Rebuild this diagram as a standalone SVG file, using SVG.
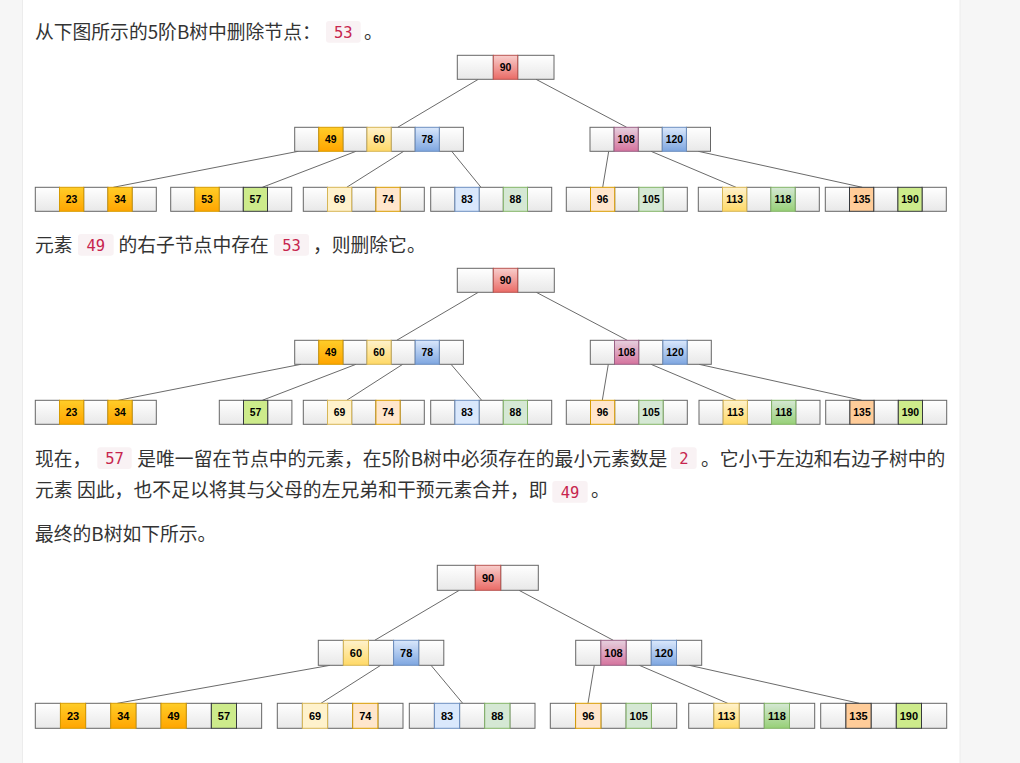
<svg xmlns="http://www.w3.org/2000/svg" width="1020" height="763" viewBox="0 0 1020 763">
<defs>
<linearGradient id="gW" x1="0" y1="0" x2="0" y2="1"><stop offset="0" stop-color="#ffffff"/><stop offset="1" stop-color="#e8e8e8"/></linearGradient>
<linearGradient id="gOr" x1="0" y1="0" x2="0" y2="1"><stop offset="0" stop-color="#ffcd28"/><stop offset="1" stop-color="#ffa500"/></linearGradient>
<linearGradient id="gY" x1="0" y1="0" x2="0" y2="1"><stop offset="0" stop-color="#fff2cc"/><stop offset="1" stop-color="#ffd966"/></linearGradient>
<linearGradient id="gB" x1="0" y1="0" x2="0" y2="1"><stop offset="0" stop-color="#dae8fc"/><stop offset="1" stop-color="#7ea6e0"/></linearGradient>
<linearGradient id="gR" x1="0" y1="0" x2="0" y2="1"><stop offset="0" stop-color="#f8cecc"/><stop offset="1" stop-color="#ea6b66"/></linearGradient>
<linearGradient id="gP" x1="0" y1="0" x2="0" y2="1"><stop offset="0" stop-color="#e6d0de"/><stop offset="1" stop-color="#d5739d"/></linearGradient>
<linearGradient id="gG" x1="0" y1="0" x2="0" y2="1"><stop offset="0" stop-color="#d5e8d4"/><stop offset="1" stop-color="#97d077"/></linearGradient>
</defs>
<style>
rect{stroke-width:1}
.w{fill:url(#gW);stroke:#666}
.or{fill:url(#gOr);stroke:#d79b00}
.y{fill:url(#gY);stroke:#d6b656}
.b{fill:url(#gB);stroke:#6c8ebf}
.r{fill:url(#gR);stroke:#b85450}
.p{fill:url(#gP);stroke:#996185}
.gg{fill:url(#gG);stroke:#82b366}
.g2{fill:#cdeb8b;stroke:#36393d}
.pe{fill:#ffe6cc;stroke:#d79b00}
.ly{fill:#fff2cc;stroke:#d6b656}
.lb{fill:#dae8fc;stroke:#6c8ebf}
.lg{fill:#d5e8d4;stroke:#82b366}
.o2{fill:#ffcc99;stroke:#36393d}
.k{font-family:"Liberation Sans",Arial,sans-serif;font-weight:bold;font-size:10.4px;text-anchor:middle;fill:#000}
.k3{font-family:"Liberation Sans",Arial,sans-serif;font-weight:bold;font-size:11px;text-anchor:middle;fill:#000}
.t{font-family:"Noto Sans CJK SC","Noto Sans",sans-serif;font-size:18.8px;fill:#333}
.cb{fill:#f9f2f4;stroke:none}
.ct{font-family:"DejaVu Sans Mono","Liberation Mono",monospace;font-size:15.5px;fill:#c7254e;text-anchor:middle}
.ln{stroke:#444;stroke-width:0.8;fill:none}
</style>
<rect x="0" y="0" width="1020" height="763" fill="#ffffff"/>
<rect x="0" y="0" width="22.5" height="763" fill="#f6f6f6"/>
<line x1="22.5" y1="0" x2="22.5" y2="763" stroke="#ececec"/>
<rect x="960" y="0" width="60" height="763" fill="#f6f6f6"/>
<line x1="960" y1="0" x2="960" y2="763" stroke="#ececec"/>

<g id="texts">
<text class="t" x="35" y="38.5">从下图所示的5阶B树中删除节点：</text>
<rect class="cb" x="326" y="21" width="34.7" height="21.7" rx="3"/>
<text class="ct" x="343.3" y="37.5">53</text>
<text class="t" x="364" y="38.5">。</text>

<text class="t" x="35" y="251.5">元素</text>
<rect class="cb" x="78" y="234" width="35.7" height="21.7" rx="3"/>
<text class="ct" x="95.8" y="250.5">49</text>
<text class="t" x="118.5" y="251.5">的右子节点中存在</text>
<rect class="cb" x="274" y="234" width="35" height="21.7" rx="3"/>
<text class="ct" x="291.5" y="250.5">53</text>
<text class="t" x="313" y="251.5">，则删除它。</text>

<text class="t" x="35" y="466">现在，</text>
<rect class="cb" x="97.3" y="447.3" width="34.4" height="21.7" rx="3"/>
<text class="ct" x="114.5" y="463.8">57</text>
<text class="t" x="137.3" y="466" textLength="530" lengthAdjust="spacing">是唯一留在节点中的元素，在5阶B树中必须存在的最小元素数是</text>
<rect class="cb" x="671" y="447.3" width="25.7" height="21.7" rx="3"/>
<text class="ct" x="683.8" y="463.8">2</text>
<text class="t" x="701" y="466" textLength="244.4" lengthAdjust="spacing">。它小于左边和右边子树中的</text>

<text class="t" x="35" y="497" textLength="512.6" lengthAdjust="spacing">元素 因此，也不足以将其与父母的左兄弟和干预元素合并，即</text>
<rect class="cb" x="552.3" y="481" width="35.4" height="21.7" rx="3"/>
<text class="ct" x="570" y="497.5">49</text>
<text class="t" x="591" y="497">。</text>

<text class="t" x="35" y="541">最终的B树如下所示。</text>
</g>

<g id="connectors">
<line class="ln" x1="478.3" y1="79.3" x2="397.7" y2="127.3"/>
<line class="ln" x1="536" y1="79.3" x2="626.7" y2="127.3"/>
<line class="ln" x1="298.3" y1="151.3" x2="113.3" y2="187.3"/>
<line class="ln" x1="356" y1="151.3" x2="262.3" y2="187.3"/>
<line class="ln" x1="403.7" y1="151.3" x2="346.7" y2="187.3"/>
<line class="ln" x1="451.7" y1="151.3" x2="481" y2="187.3"/>
<line class="ln" x1="608.7" y1="151.3" x2="602.7" y2="187.3"/>
<line class="ln" x1="651" y1="151.3" x2="736" y2="187.3"/>
<line class="ln" x1="698.3" y1="151.3" x2="862.3" y2="187.3"/>

<line class="ln" x1="478.3" y1="292.3" x2="396.7" y2="340.3"/>
<line class="ln" x1="536.3" y1="292.3" x2="627.3" y2="340.3"/>
<line class="ln" x1="301" y1="364.3" x2="118.3" y2="400.3"/>
<line class="ln" x1="356" y1="364.3" x2="262.3" y2="400.3"/>
<line class="ln" x1="402.7" y1="364.3" x2="346.7" y2="400.3"/>
<line class="ln" x1="451" y1="364.3" x2="481.7" y2="400.3"/>
<line class="ln" x1="608.3" y1="364.3" x2="602.3" y2="400.3"/>
<line class="ln" x1="651" y1="364.3" x2="736" y2="400.3"/>
<line class="ln" x1="699" y1="364.3" x2="861.7" y2="400.3"/>

<line class="ln" x1="459.3" y1="590.3" x2="374.7" y2="640.3"/>
<line class="ln" x1="519" y1="590.3" x2="613.3" y2="640.3"/>
<line class="ln" x1="330" y1="665.3" x2="117.3" y2="703.3"/>
<line class="ln" x1="380.7" y1="665.3" x2="321" y2="703.3"/>
<line class="ln" x1="431" y1="665.3" x2="462.7" y2="703.3"/>
<line class="ln" x1="594.3" y1="665.3" x2="588" y2="703.3"/>
<line class="ln" x1="639.3" y1="665.3" x2="727.7" y2="703.3"/>
<line class="ln" x1="689.3" y1="665.3" x2="859.3" y2="703.3"/>
</g>

<!-- Tree 1 -->
<g id="t1-root">
<rect class="w" x="457.3" y="55.3" width="36" height="24"/>
<rect class="w" x="517.7" y="55.3" width="36.3" height="24"/>
<rect class="r" x="493.3" y="55.3" width="24.4" height="24"/>
<text class="k" x="505.5" y="71">90</text>
</g>
<g id="t1-n1">
<rect class="w" x="294.7" y="127.3" width="24.1" height="24"/>
<rect class="w" x="342.9" y="127.3" width="24.1" height="24"/>
<rect class="w" x="391.1" y="127.3" width="24.1" height="24"/>
<rect class="w" x="439.3" y="127.3" width="24.1" height="24"/>
<rect class="or" x="318.8" y="127.3" width="24.1" height="24"/>
<rect class="y" x="367" y="127.3" width="24.1" height="24"/>
<rect class="b" x="415.2" y="127.3" width="24.1" height="24"/>
<text class="k" x="330.85" y="143">49</text>
<text class="k" x="379.05" y="143">60</text>
<text class="k" x="427.25" y="143">78</text>
</g>
<g id="t1-n2">
<rect class="w" x="590" y="127.3" width="24.1" height="24"/>
<rect class="w" x="638.2" y="127.3" width="24.1" height="24"/>
<rect class="w" x="686.4" y="127.3" width="24.1" height="24"/>
<rect class="p" x="614.1" y="127.3" width="24.1" height="24"/>
<rect class="b" x="662.3" y="127.3" width="24.1" height="24"/>
<text class="k" x="626.15" y="143">108</text>
<text class="k" x="674.35" y="143">120</text>
</g>
<g id="t1-l1">
<rect class="w" x="35.3" y="187.3" width="24.2" height="24"/>
<rect class="w" x="83.7" y="187.3" width="24.2" height="24"/>
<rect class="w" x="132.1" y="187.3" width="24.2" height="24"/>
<rect class="or" x="59.5" y="187.3" width="24.2" height="24"/>
<rect class="or" x="107.9" y="187.3" width="24.2" height="24"/>
<text class="k" x="71.6" y="203">23</text>
<text class="k" x="120" y="203">34</text>
</g>
<g id="t1-l2">
<rect class="w" x="170.7" y="187.3" width="24.2" height="24"/>
<rect class="w" x="219.1" y="187.3" width="24.2" height="24"/>
<rect class="w" x="267.5" y="187.3" width="24.2" height="24"/>
<rect class="or" x="194.9" y="187.3" width="24.2" height="24"/>
<rect class="g2" x="243.3" y="187.3" width="24.2" height="24"/>
<text class="k" x="207" y="203">53</text>
<text class="k" x="255.4" y="203">57</text>
</g>
<g id="t1-l3">
<rect class="w" x="303.3" y="187.3" width="24.2" height="24"/>
<rect class="w" x="351.7" y="187.3" width="24.2" height="24"/>
<rect class="w" x="400.1" y="187.3" width="24.2" height="24"/>
<rect class="ly" x="327.5" y="187.3" width="24.2" height="24"/>
<rect class="pe" x="375.9" y="187.3" width="24.2" height="24"/>
<text class="k" x="339.6" y="203">69</text>
<text class="k" x="388" y="203">74</text>
</g>
<g id="t1-l4">
<rect class="w" x="430.7" y="187.3" width="24.2" height="24"/>
<rect class="w" x="479.1" y="187.3" width="24.2" height="24"/>
<rect class="w" x="527.5" y="187.3" width="24.2" height="24"/>
<rect class="lb" x="454.9" y="187.3" width="24.2" height="24"/>
<rect class="lg" x="503.3" y="187.3" width="24.2" height="24"/>
<text class="k" x="467" y="203">83</text>
<text class="k" x="515.4" y="203">88</text>
</g>
<g id="t1-l5">
<rect class="w" x="566.3" y="187.3" width="24.2" height="24"/>
<rect class="w" x="614.7" y="187.3" width="24.2" height="24"/>
<rect class="w" x="663.1" y="187.3" width="24.2" height="24"/>
<rect class="pe" x="590.5" y="187.3" width="24.2" height="24"/>
<rect class="lg" x="638.9" y="187.3" width="24.2" height="24"/>
<text class="k" x="602.6" y="203">96</text>
<text class="k" x="651" y="203">105</text>
</g>
<g id="t1-l6">
<rect class="w" x="698.3" y="187.3" width="24.2" height="24"/>
<rect class="w" x="746.7" y="187.3" width="24.2" height="24"/>
<rect class="w" x="795.1" y="187.3" width="24.2" height="24"/>
<rect class="y" x="722.5" y="187.3" width="24.2" height="24"/>
<rect class="gg" x="770.9" y="187.3" width="24.2" height="24"/>
<text class="k" x="734.6" y="203">113</text>
<text class="k" x="783" y="203">118</text>
</g>
<g id="t1-l7">
<rect class="w" x="825.3" y="187.3" width="24.2" height="24"/>
<rect class="w" x="873.7" y="187.3" width="24.2" height="24"/>
<rect class="w" x="922.1" y="187.3" width="24.2" height="24"/>
<rect class="o2" x="849.5" y="187.3" width="24.2" height="24"/>
<rect class="g2" x="897.9" y="187.3" width="24.2" height="24"/>
<text class="k" x="861.6" y="203">135</text>
<text class="k" x="910" y="203">190</text>
</g>

<!-- Tree 2 -->
<g id="t2-root">
<rect class="w" x="457.3" y="268.3" width="36" height="24"/>
<rect class="w" x="517.7" y="268.3" width="36.6" height="24"/>
<rect class="r" x="493.3" y="268.3" width="24.4" height="24"/>
<text class="k" x="505.5" y="284">90</text>
</g>
<g id="t2-n1">
<rect class="w" x="294.7" y="340.3" width="24.1" height="24"/>
<rect class="w" x="342.9" y="340.3" width="24.1" height="24"/>
<rect class="w" x="391.1" y="340.3" width="24.1" height="24"/>
<rect class="w" x="439.3" y="340.3" width="24.1" height="24"/>
<rect class="or" x="318.8" y="340.3" width="24.1" height="24"/>
<rect class="y" x="367" y="340.3" width="24.1" height="24"/>
<rect class="b" x="415.2" y="340.3" width="24.1" height="24"/>
<text class="k" x="330.85" y="356">49</text>
<text class="k" x="379.05" y="356">60</text>
<text class="k" x="427.25" y="356">78</text>
</g>
<g id="t2-n2">
<rect class="w" x="590.3" y="340.3" width="24.2" height="24"/>
<rect class="w" x="638.7" y="340.3" width="24.2" height="24"/>
<rect class="w" x="687.1" y="340.3" width="24.2" height="24"/>
<rect class="p" x="614.5" y="340.3" width="24.2" height="24"/>
<rect class="b" x="662.9" y="340.3" width="24.2" height="24"/>
<text class="k" x="626.6" y="356">108</text>
<text class="k" x="675" y="356">120</text>
</g>
<g id="t2-l1">
<rect class="w" x="35.3" y="400.3" width="24.2" height="24"/>
<rect class="w" x="83.7" y="400.3" width="24.2" height="24"/>
<rect class="w" x="132.1" y="400.3" width="24.2" height="24"/>
<rect class="or" x="59.5" y="400.3" width="24.2" height="24"/>
<rect class="or" x="107.9" y="400.3" width="24.2" height="24"/>
<text class="k" x="71.6" y="416">23</text>
<text class="k" x="120" y="416">34</text>
</g>
<g id="t2-l2">
<rect class="w" x="219.3" y="400.3" width="24.2" height="24"/>
<rect class="w" x="267.7" y="400.3" width="24.2" height="24"/>
<rect class="g2" x="243.5" y="400.3" width="24.2" height="24"/>
<text class="k" x="255.6" y="416">57</text>
</g>
<g id="t2-l3">
<rect class="w" x="303.3" y="400.3" width="24.2" height="24"/>
<rect class="w" x="351.7" y="400.3" width="24.2" height="24"/>
<rect class="w" x="400.1" y="400.3" width="24.2" height="24"/>
<rect class="ly" x="327.5" y="400.3" width="24.2" height="24"/>
<rect class="pe" x="375.9" y="400.3" width="24.2" height="24"/>
<text class="k" x="339.6" y="416">69</text>
<text class="k" x="388" y="416">74</text>
</g>
<g id="t2-l4">
<rect class="w" x="430.7" y="400.3" width="24.2" height="24"/>
<rect class="w" x="479.1" y="400.3" width="24.2" height="24"/>
<rect class="w" x="527.5" y="400.3" width="24.2" height="24"/>
<rect class="lb" x="454.9" y="400.3" width="24.2" height="24"/>
<rect class="lg" x="503.3" y="400.3" width="24.2" height="24"/>
<text class="k" x="467" y="416">83</text>
<text class="k" x="515.4" y="416">88</text>
</g>
<g id="t2-l5">
<rect class="w" x="566.3" y="400.3" width="24.2" height="24"/>
<rect class="w" x="614.7" y="400.3" width="24.2" height="24"/>
<rect class="w" x="663.1" y="400.3" width="24.2" height="24"/>
<rect class="pe" x="590.5" y="400.3" width="24.2" height="24"/>
<rect class="lg" x="638.9" y="400.3" width="24.2" height="24"/>
<text class="k" x="602.6" y="416">96</text>
<text class="k" x="651" y="416">105</text>
</g>
<g id="t2-l6">
<rect class="w" x="699" y="400.3" width="24.2" height="24"/>
<rect class="w" x="747.4" y="400.3" width="24.2" height="24"/>
<rect class="w" x="795.8" y="400.3" width="24.2" height="24"/>
<rect class="y" x="723.2" y="400.3" width="24.2" height="24"/>
<rect class="gg" x="771.6" y="400.3" width="24.2" height="24"/>
<text class="k" x="735.3" y="416">113</text>
<text class="k" x="783.7" y="416">118</text>
</g>
<g id="t2-l7">
<rect class="w" x="825.7" y="400.3" width="24.2" height="24"/>
<rect class="w" x="874.1" y="400.3" width="24.2" height="24"/>
<rect class="w" x="922.5" y="400.3" width="24.2" height="24"/>
<rect class="o2" x="849.9" y="400.3" width="24.2" height="24"/>
<rect class="g2" x="898.3" y="400.3" width="24.2" height="24"/>
<text class="k" x="862" y="416">135</text>
<text class="k" x="910.4" y="416">190</text>
</g>

<!-- Tree 3 -->
<g id="t3-root">
<rect class="w" x="437.3" y="565.3" width="38" height="25"/>
<rect class="w" x="500.7" y="565.3" width="37.6" height="25"/>
<rect class="r" x="475.3" y="565.3" width="25.4" height="25"/>
<text class="k3" x="488" y="581.7">90</text>
</g>
<g id="t3-n1">
<rect class="w" x="318.3" y="640.3" width="25.1" height="25"/>
<rect class="w" x="368.5" y="640.3" width="25.1" height="25"/>
<rect class="w" x="418.7" y="640.3" width="25.1" height="25"/>
<rect class="y" x="343.4" y="640.3" width="25.1" height="25"/>
<rect class="b" x="393.6" y="640.3" width="25.1" height="25"/>
<text class="k3" x="355.95" y="656.7">60</text>
<text class="k3" x="406.15" y="656.7">78</text>
</g>
<g id="t3-n2">
<rect class="w" x="575.7" y="640.3" width="25.2" height="25"/>
<rect class="w" x="626.1" y="640.3" width="25.2" height="25"/>
<rect class="w" x="676.5" y="640.3" width="25.2" height="25"/>
<rect class="p" x="600.9" y="640.3" width="25.2" height="25"/>
<rect class="b" x="651.3" y="640.3" width="25.2" height="25"/>
<text class="k3" x="613.5" y="656.7">108</text>
<text class="k3" x="663.9" y="656.7">120</text>
</g>
<g id="t3-l1">
<rect class="w" x="35.3" y="703.3" width="25.15" height="25"/>
<rect class="w" x="85.6" y="703.3" width="25.15" height="25"/>
<rect class="w" x="135.9" y="703.3" width="25.15" height="25"/>
<rect class="w" x="186.2" y="703.3" width="25.15" height="25"/>
<rect class="w" x="236.5" y="703.3" width="25.15" height="25"/>
<rect class="or" x="60.45" y="703.3" width="25.15" height="25"/>
<rect class="or" x="110.75" y="703.3" width="25.15" height="25"/>
<rect class="or" x="161.05" y="703.3" width="25.15" height="25"/>
<rect class="g2" x="211.35" y="703.3" width="25.15" height="25"/>
<text class="k3" x="73" y="719.7">23</text>
<text class="k3" x="123.3" y="719.7">34</text>
<text class="k3" x="173.6" y="719.7">49</text>
<text class="k3" x="223.9" y="719.7">57</text>
</g>
<g id="t3-l2">
<rect class="w" x="277.3" y="703.3" width="25.1" height="25"/>
<rect class="w" x="327.6" y="703.3" width="25.1" height="25"/>
<rect class="w" x="377.9" y="703.3" width="25.1" height="25"/>
<rect class="ly" x="302.4" y="703.3" width="25.2" height="25"/>
<rect class="pe" x="352.7" y="703.3" width="25.2" height="25"/>
<text class="k3" x="315" y="719.7">69</text>
<text class="k3" x="365.3" y="719.7">74</text>
</g>
<g id="t3-l3">
<rect class="w" x="409.3" y="703.3" width="25.1" height="25"/>
<rect class="w" x="459.6" y="703.3" width="25.1" height="25"/>
<rect class="w" x="509.9" y="703.3" width="25.1" height="25"/>
<rect class="lb" x="434.4" y="703.3" width="25.2" height="25"/>
<rect class="lg" x="484.7" y="703.3" width="25.2" height="25"/>
<text class="k3" x="447" y="719.7">83</text>
<text class="k3" x="497.3" y="719.7">88</text>
</g>
<g id="t3-l4">
<rect class="w" x="550.3" y="703.3" width="25.3" height="25"/>
<rect class="w" x="600.9" y="703.3" width="25.2" height="25"/>
<rect class="w" x="651.4" y="703.3" width="25.3" height="25"/>
<rect class="pe" x="575.6" y="703.3" width="25.3" height="25"/>
<rect class="lg" x="626.1" y="703.3" width="25.3" height="25"/>
<text class="k3" x="588.25" y="719.7">96</text>
<text class="k3" x="638.75" y="719.7">105</text>
</g>
<g id="t3-l5">
<rect class="w" x="688.7" y="703.3" width="25.2" height="25"/>
<rect class="w" x="739.1" y="703.3" width="25.2" height="25"/>
<rect class="w" x="789.5" y="703.3" width="25.2" height="25"/>
<rect class="y" x="713.9" y="703.3" width="25.2" height="25"/>
<rect class="gg" x="764.3" y="703.3" width="25.2" height="25"/>
<text class="k3" x="726.5" y="719.7">113</text>
<text class="k3" x="776.9" y="719.7">118</text>
</g>
<g id="t3-l6">
<rect class="w" x="820.7" y="703.3" width="25.2" height="25"/>
<rect class="w" x="871.1" y="703.3" width="25.2" height="25"/>
<rect class="w" x="921.5" y="703.3" width="25.2" height="25"/>
<rect class="o2" x="845.9" y="703.3" width="25.2" height="25"/>
<rect class="g2" x="896.3" y="703.3" width="25.2" height="25"/>
<text class="k3" x="858.5" y="719.7">135</text>
<text class="k3" x="908.9" y="719.7">190</text>
</g>
</svg>
